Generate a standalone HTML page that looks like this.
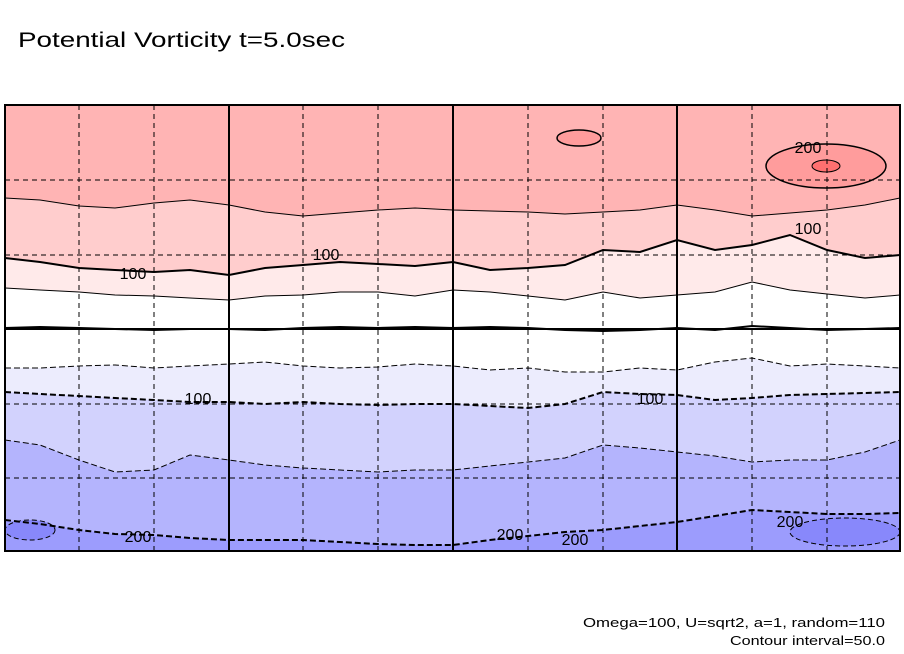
<!DOCTYPE html>
<html><head><meta charset="utf-8"><style>
body{margin:0;background:#fff;width:904px;height:654px;overflow:hidden;font-family:"Liberation Sans",sans-serif}
svg{display:block}
</style></head><body>
<svg width="904" height="654">
<text x="18" y="47" font-size="21" fill="#000" textLength="327" lengthAdjust="spacingAndGlyphs">Potential Vorticity t=5.0sec</text>
<g id="bands"></g>
<g id="lines"></g>
<g id="grid"></g>
<g id="labels"></g>
<rect x="5" y="105" width="895" height="446" fill="none" stroke="#000" stroke-width="2"/>
<text x="885" y="627" font-size="13" text-anchor="end" textLength="302" lengthAdjust="spacingAndGlyphs">Omega=100, U=sqrt2, a=1, random=110</text>
<text x="885" y="645" font-size="13" text-anchor="end" textLength="155" lengthAdjust="spacingAndGlyphs">Contour interval=50.0</text>
</svg>
<script>
const xs=[5,40,79,115,154,190,229,265,303,340,378,415,453,490,528,565,603,640,677,715,752,790,827,865,900];
const levels=[150,100,50,0,-50,-100,-150,-200];
const b150=[198,200,206,208,203,200,205,212,216,213,210,208,210,211,212,214,212,210,205,210,216,213,210,205,198];
const b100=[258,262,268,270,272,270,275,268,265,262,264,266,262,270,268,265,250,252,240,250,245,235,250,258,255];
const b50=[288,290,292,295,296,298,300,296,295,292,292,296,290,292,296,300,292,298,295,292,282,290,294,298,295];
const b0=[328,327,328,329,330,329,329,330,328,327,328,327,328,327,328,330,331,330,328,330,326,328,330,329,328];
const bm50=[368,368,366,365,368,366,364,362,366,368,367,364,366,370,368,372,372,368,370,362,358,366,364,366,368];
const bm100=[392,394,396,398,400,402,402,404,402,404,405,404,404,406,408,404,392,394,395,400,398,395,394,393,392];
const bm150=[440,445,460,472,470,455,460,465,468,470,472,470,470,466,462,458,445,448,452,456,462,460,460,452,440];
const bm200=[520,524,530,534,535,538,540,540,540,542,544,545,545,540,536,532,530,526,522,516,510,512,514,514,513];
const bounds=[b150,b100,b50,b0,bm50,bm100,bm150,bm200];
const colors=['#ffb4b4','#ffcdcd','#ffeaea','#ffffff','#ffffff','#ececfd','#d2d2fd','#b4b4fd','#9c9cfd'];
const X0=5,X1=900,Y0=105,Y1=551;
const ns='http://www.w3.org/2000/svg';
function pts(arr){return arr.map((y,i)=>xs[i]+','+y).join(' ');}
const bands=document.getElementById('bands');
for(let k=0;k<=bounds.length;k++){
  const top=k===0?xs.map(()=>Y0):bounds[k-1];
  const bot=k===bounds.length?xs.map(()=>Y1):bounds[k];
  let p=top.map((y,i)=>xs[i]+','+y).join(' ')+' '+bot.map((y,i)=>xs[i]+','+y).reverse().join(' ');
  const pg=document.createElementNS(ns,'polygon');
  pg.setAttribute('points',p);pg.setAttribute('fill',colors[k]);
  
  
  bands.appendChild(pg);
}
const extra=[[826,166,60,22,'#ff9c9c',1.5,''],[826,166,14,6,'#ff7070',1,''],[579,138,22,8,'#ff9c9c',1.5,''],[845,532,55,14,'#8888fb',1,'5,3'],[30,530,25,10,'#8888fb',1,'5,3']];
extra.forEach(e=>{const el=document.createElementNS(ns,'ellipse');el.setAttribute('cx',e[0]);el.setAttribute('cy',e[1]);el.setAttribute('rx',e[2]);el.setAttribute('ry',e[3]);el.setAttribute('fill',e[4]);el.setAttribute('stroke','#000');el.setAttribute('stroke-width',e[5]);if(e[6])el.setAttribute('stroke-dasharray',e[6]);


bands.appendChild(el);});
const lines=document.getElementById('lines');
bounds.forEach((b,k)=>{
  const pl=document.createElementNS(ns,'polyline');
  pl.setAttribute('points',pts(b));pl.setAttribute('fill','none');pl.setAttribute('stroke','#000');
  const lv=levels[k];
  pl.setAttribute('stroke-width',(lv%100===0)?2:1);
  if(lv<0)pl.setAttribute('stroke-dasharray','6,3');
  
  
  lines.appendChild(pl);
});
const grid=document.getElementById('grid');
[79,154,303,378,528,603,752,827].forEach(x=>{const l=document.createElementNS(ns,'line');l.setAttribute('x1',x);l.setAttribute('x2',x);l.setAttribute('y1',Y0);l.setAttribute('y2',Y1);l.setAttribute('stroke','#000');l.setAttribute('stroke-dasharray','5,4');


grid.appendChild(l);});
[229,453,677].forEach(x=>{const l=document.createElementNS(ns,'line');l.setAttribute('x1',x);l.setAttribute('x2',x);l.setAttribute('y1',Y0);l.setAttribute('y2',Y1);l.setAttribute('stroke','#000');l.setAttribute('stroke-width','2');


grid.appendChild(l);});
[180,255,404,478].forEach(y=>{const l=document.createElementNS(ns,'line');l.setAttribute('x1',X0);l.setAttribute('x2',X1);l.setAttribute('y1',y);l.setAttribute('y2',y);l.setAttribute('stroke','#000');l.setAttribute('stroke-dasharray','5,4');


grid.appendChild(l);});
{const l=document.createElementNS(ns,'line');l.setAttribute('x1',X0);l.setAttribute('x2',X1);l.setAttribute('y1',329);l.setAttribute('y2',329);l.setAttribute('stroke','#000');l.setAttribute('stroke-width','2');


grid.appendChild(l);}
const labs=[[133,279,'100'],[326,260,'100'],[808,234,'100'],[808,153,'200'],[198,404,'100'],[650,404,'100'],[138,542,'200'],[510,540,'200'],[575,545,'200'],[790,527,'200']];
const lg=document.getElementById('labels');
labs.forEach(a=>{const t=document.createElementNS(ns,'text');t.setAttribute('x',a[0]);t.setAttribute('y',a[1]);t.setAttribute('font-size','16');t.setAttribute('text-anchor','middle');t.textContent=a[2];


lg.appendChild(t);});
</script>
</body></html>
